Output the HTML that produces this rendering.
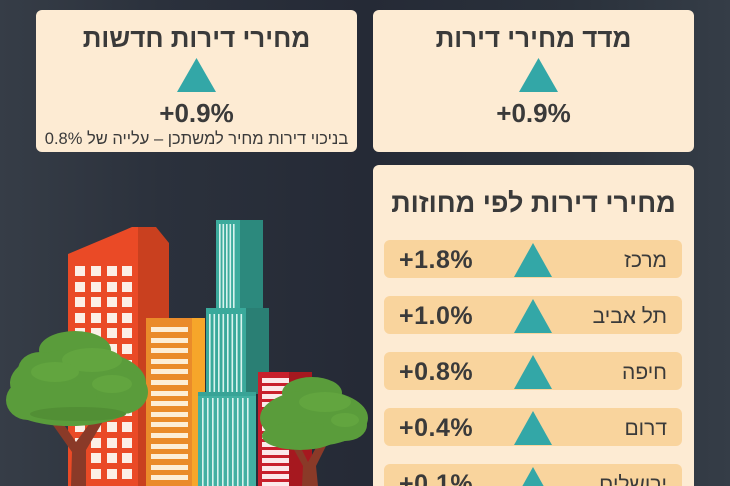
<!DOCTYPE html>
<html><head><meta charset="utf-8">
<style>
html,body{margin:0;padding:0;width:730px;height:486px;overflow:hidden;}
body{position:relative;
background:linear-gradient(90deg,#363d47 0%,#2b313c 22%,#252a36 50%,#2a313b 78%,#353d47 100%);
font-family:"Liberation Sans","DejaVu Sans",sans-serif;color:#3a3a3a;}
.card{position:absolute;background:#fdebd3;border-radius:6px;}
.t{position:absolute;left:0;right:0;text-align:center;direction:rtl;font-weight:bold;line-height:1;white-space:nowrap;}
.v{position:absolute;left:0;right:0;text-align:center;font-weight:bold;line-height:1;white-space:nowrap;}
.row{position:absolute;left:11px;width:298px;height:38px;background:#f9d49d;border-radius:6px;}
.row .val{position:absolute;left:15px;top:8px;font-size:25px;font-weight:bold;line-height:1;letter-spacing:0.5px;}
.row .lab{position:absolute;right:15px;top:10px;font-size:21px;line-height:1;direction:rtl;white-space:nowrap;}
.row svg{position:absolute;left:130px;top:3px;}
</style></head><body>
<svg width="730" height="486" style="position:absolute;left:0;top:0" xmlns="http://www.w3.org/2000/svg">
<!-- red building -->
<polygon points="138,227 156,227 169,243 169,486 138,486" fill="#c9401f"/>
<polygon points="68,254 132,227 138,227 138,486 68,486" fill="#ea4a26"/>
<g fill="#fcefe6">
<rect x="75" y="266" width="10" height="10"/><rect x="91" y="266" width="10" height="10"/><rect x="107" y="266" width="10" height="10"/><rect x="122" y="266" width="10" height="10"/>
<rect x="75" y="282" width="10" height="10"/><rect x="91" y="282" width="10" height="10"/><rect x="107" y="282" width="10" height="10"/><rect x="122" y="282" width="10" height="10"/>
<rect x="75" y="297" width="10" height="10"/><rect x="91" y="297" width="10" height="10"/><rect x="107" y="297" width="10" height="10"/><rect x="122" y="297" width="10" height="10"/>
<rect x="75" y="313" width="10" height="10"/><rect x="91" y="313" width="10" height="10"/><rect x="107" y="313" width="10" height="10"/><rect x="122" y="313" width="10" height="10"/>
<rect x="75" y="328" width="10" height="10"/><rect x="91" y="328" width="10" height="10"/><rect x="107" y="328" width="10" height="10"/><rect x="122" y="328" width="10" height="10"/>
<rect x="75" y="344" width="10" height="10"/><rect x="91" y="344" width="10" height="10"/><rect x="107" y="344" width="10" height="10"/><rect x="122" y="344" width="10" height="10"/>
<rect x="75" y="360" width="10" height="10"/><rect x="91" y="360" width="10" height="10"/><rect x="107" y="360" width="10" height="10"/><rect x="122" y="360" width="10" height="10"/>
<rect x="75" y="375" width="10" height="10"/><rect x="91" y="375" width="10" height="10"/><rect x="107" y="375" width="10" height="10"/><rect x="122" y="375" width="10" height="10"/>
<rect x="75" y="391" width="10" height="10"/><rect x="91" y="391" width="10" height="10"/><rect x="107" y="391" width="10" height="10"/><rect x="122" y="391" width="10" height="10"/>
<rect x="75" y="406" width="10" height="10"/><rect x="91" y="406" width="10" height="10"/><rect x="107" y="406" width="10" height="10"/><rect x="122" y="406" width="10" height="10"/>
<rect x="75" y="422" width="10" height="10"/><rect x="91" y="422" width="10" height="10"/><rect x="107" y="422" width="10" height="10"/><rect x="122" y="422" width="10" height="10"/>
<rect x="75" y="438" width="10" height="10"/><rect x="91" y="438" width="10" height="10"/><rect x="107" y="438" width="10" height="10"/><rect x="122" y="438" width="10" height="10"/>
<rect x="75" y="453" width="10" height="10"/><rect x="91" y="453" width="10" height="10"/><rect x="107" y="453" width="10" height="10"/><rect x="122" y="453" width="10" height="10"/>
<rect x="75" y="469" width="10" height="10"/><rect x="91" y="469" width="10" height="10"/><rect x="107" y="469" width="10" height="10"/><rect x="122" y="469" width="10" height="10"/>
</g>
<!-- orange building -->
<rect x="146" y="318" width="47" height="168" fill="#ea8b2a"/>
<rect x="192" y="318" width="13" height="168" fill="#f6a62a"/>
<g fill="#fdeed6">
<rect x="151" y="327" width="37" height="5"/><rect x="151" y="338" width="37" height="5"/><rect x="151" y="348" width="37" height="5"/><rect x="151" y="359" width="37" height="5"/>
<rect x="151" y="369" width="37" height="5"/><rect x="151" y="380" width="37" height="5"/><rect x="151" y="391" width="37" height="5"/><rect x="151" y="401" width="37" height="5"/>
<rect x="151" y="412" width="37" height="5"/><rect x="151" y="422" width="37" height="5"/><rect x="151" y="433" width="37" height="5"/><rect x="151" y="444" width="37" height="5"/>
<rect x="151" y="454" width="37" height="5"/><rect x="151" y="465" width="37" height="5"/><rect x="151" y="475" width="37" height="5"/>
</g>
<!-- teal tower -->
<rect x="216" y="220" width="24" height="89" fill="#3dab9d"/>
<rect x="240" y="220" width="23" height="89" fill="#2c897d"/>
<g fill="#d9f3ee">
<rect x="219" y="224" width="1.6" height="84"/><rect x="222.5" y="224" width="1.6" height="84"/><rect x="226" y="224" width="1.6" height="84"/><rect x="229.5" y="224" width="1.6" height="84"/><rect x="233" y="224" width="1.6" height="84"/>
</g>
<rect x="206" y="308" width="40" height="86" fill="#3aa99b"/>
<rect x="246" y="308" width="23" height="86" fill="#2a7f74"/>
<g fill="#d9f3ee">
<rect x="209" y="314" width="1.6" height="78"/><rect x="213.5" y="314" width="1.6" height="78"/><rect x="218" y="314" width="1.6" height="78"/><rect x="222.5" y="314" width="1.6" height="78"/><rect x="227" y="314" width="1.6" height="78"/><rect x="231.5" y="314" width="1.6" height="78"/><rect x="236" y="314" width="1.6" height="78"/><rect x="240.5" y="314" width="1.6" height="78"/>
</g>
<rect x="198" y="392" width="58" height="94" fill="#42b0a2"/>
<rect x="198" y="392" width="58" height="4" fill="#38a396"/>
<g fill="#d9f3ee">
<rect x="202" y="398" width="1.6" height="88"/><rect x="207" y="398" width="1.6" height="88"/><rect x="212" y="398" width="1.6" height="88"/><rect x="217" y="398" width="1.6" height="88"/><rect x="222" y="398" width="1.6" height="88"/><rect x="227" y="398" width="1.6" height="88"/><rect x="232" y="398" width="1.6" height="88"/><rect x="237" y="398" width="1.6" height="88"/><rect x="242" y="398" width="1.6" height="88"/><rect x="247" y="398" width="1.6" height="88"/>
</g>
<!-- crimson building -->
<rect x="258" y="372" width="32" height="114" fill="#c8202c"/>
<rect x="289" y="372" width="23" height="114" fill="#a6181f"/>
<g fill="#fbe9ea">
<rect x="262" y="378" width="27" height="5"/><rect x="262" y="386" width="27" height="5"/><rect x="262" y="394" width="27" height="5"/><rect x="262" y="402" width="27" height="5"/><rect x="262" y="410" width="27" height="5"/><rect x="262" y="418" width="27" height="5"/><rect x="262" y="426" width="27" height="5"/><rect x="262" y="434" width="27" height="5"/><rect x="262" y="442" width="27" height="5"/><rect x="262" y="450" width="27" height="5"/><rect x="262" y="458" width="27" height="5"/><rect x="262" y="466" width="27" height="5"/><rect x="262" y="474" width="27" height="5"/><rect x="262" y="482" width="27" height="4"/>
</g>
<!-- left tree trunk -->
<polygon points="48,418 58,416 76,442 95,416 105,418 86,450 86,486 71,486 72,452" fill="#8a3a28"/>
<!-- left tree canopy -->
<g fill="#5a9c3b">
<ellipse cx="75" cy="350" rx="36" ry="19"/>
<ellipse cx="78" cy="383" rx="68" ry="34"/>
<ellipse cx="70" cy="404" rx="62" ry="22"/>
<ellipse cx="122" cy="392" rx="26" ry="22"/>
<ellipse cx="28" cy="400" rx="22" ry="20"/>
<ellipse cx="40" cy="370" rx="22" ry="18"/>
</g>
<g fill="#62a53f">
<ellipse cx="92" cy="360" rx="30" ry="12"/>
<ellipse cx="112" cy="384" rx="20" ry="9"/>
<ellipse cx="55" cy="372" rx="24" ry="10"/>
</g>
<g fill="#528f35">
<ellipse cx="78" cy="414" rx="48" ry="7"/>
</g>
<!-- right tree trunk -->
<polygon points="292,446 300,446 308,462 318,444 326,446 316,466 318,486 302,486 303,466" fill="#8a3a28"/>
<!-- right tree canopy -->
<g fill="#5a9c3b">
<ellipse cx="312" cy="393" rx="30" ry="16"/>
<ellipse cx="314" cy="418" rx="54" ry="28"/>
<ellipse cx="300" cy="436" rx="38" ry="14"/>
<ellipse cx="345" cy="425" rx="22" ry="16"/>
</g>
<g fill="#62a53f">
<ellipse cx="325" cy="402" rx="26" ry="10"/>
<ellipse cx="345" cy="420" rx="14" ry="7"/>
</g>
</svg>

<div class="card" style="left:36px;top:10px;width:321px;height:142px;">
  <div class="t" style="top:15px;font-size:26px;">מחירי דירות חדשות</div>
  <svg style="position:absolute;left:141px;top:48px" width="39" height="34"><polygon points="19.5,0 39,34 0,34" fill="#33a7a7"/></svg>
  <div class="v" style="top:90px;font-size:26px;">+0.9%</div>
  <div class="t" style="top:121px;font-size:16.5px;font-weight:normal;">בניכוי דירות מחיר למשתכן – עלייה של 0.8%</div>
</div>

<div class="card" style="left:373px;top:10px;width:321px;height:142px;">
  <div class="t" style="top:15px;font-size:26px;">מדד מחירי דירות</div>
  <svg style="position:absolute;left:146px;top:48px" width="39" height="34"><polygon points="19.5,0 39,34 0,34" fill="#33a7a7"/></svg>
  <div class="v" style="top:90px;font-size:26px;">+0.9%</div>
</div>

<div class="card" style="left:373px;top:165px;width:321px;height:321px;border-radius:6px 6px 0 0;overflow:hidden;">
  <div class="t" style="top:25px;font-size:27px;">מחירי דירות לפי מחוזות</div>
  <div class="row" style="top:75px;"><span class="val">+1.8%</span><svg width="38" height="34"><polygon points="19,0 38,34 0,34" fill="#33a7a7"/></svg><span class="lab">מרכז</span></div>
  <div class="row" style="top:131px;"><span class="val">+1.0%</span><svg width="38" height="34"><polygon points="19,0 38,34 0,34" fill="#33a7a7"/></svg><span class="lab">תל אביב</span></div>
  <div class="row" style="top:187px;"><span class="val">+0.8%</span><svg width="38" height="34"><polygon points="19,0 38,34 0,34" fill="#33a7a7"/></svg><span class="lab">חיפה</span></div>
  <div class="row" style="top:243px;"><span class="val">+0.4%</span><svg width="38" height="34"><polygon points="19,0 38,34 0,34" fill="#33a7a7"/></svg><span class="lab">דרום</span></div>
  <div class="row" style="top:299px;"><span class="val">+0.1%</span><svg width="38" height="34"><polygon points="19,0 38,34 0,34" fill="#33a7a7"/></svg><span class="lab">ירושלים</span></div>
</div>
</body></html>
